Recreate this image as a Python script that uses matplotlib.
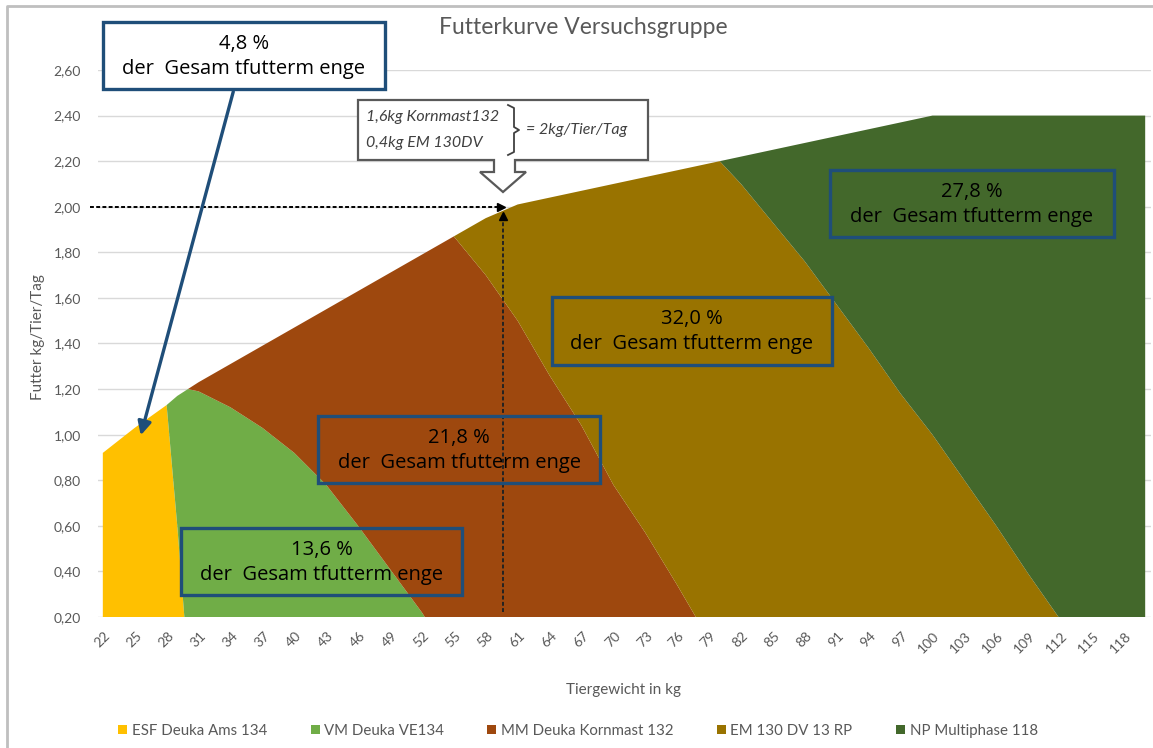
import matplotlib
matplotlib.use("Agg")
import matplotlib.pyplot as plt
import matplotlib.transforms as mtransforms
from matplotlib.patches import Rectangle, Polygon

# --- DATEN ---
gewicht = [22, 25, 28, 29, 30, 31, 34, 37, 40, 43, 46, 49, 52, 55, 58, 61, 64, 67, 70,
           73, 76, 79, 80, 82, 85, 88, 91, 94, 97, 100, 103, 106, 109, 112, 115, 118, 120]

esf = [0.92, 1.03, 1.13, 0.60, 0, 0, 0, 0, 0, 0, 0, 0, 0, 0, 0, 0, 0, 0, 0,
       0, 0, 0, 0, 0, 0, 0, 0, 0, 0, 0, 0, 0, 0, 0, 0, 0, 0]
vm = [0, 0, 0, 0.57, 1.20, 1.19, 1.12, 1.03, 0.92, 0.78, 0.60, 0.41, 0.22, 0, 0, 0, 0, 0, 0,
      0, 0, 0, 0, 0, 0, 0, 0, 0, 0, 0, 0, 0, 0, 0, 0, 0, 0]
mm = [0, 0, 0, 0, 0, 0.04, 0.19, 0.36, 0.55, 0.77, 1.03, 1.30, 1.57, 1.87, 1.70, 1.50, 1.26, 1.04, 0.78,
      0.57, 0.34, 0.10, 0.02, 0, 0, 0, 0, 0, 0, 0, 0, 0, 0, 0, 0, 0, 0]
em = [0, 0, 0, 0, 0, 0, 0, 0, 0, 0, 0, 0, 0, 0, 0.25, 0.51, 0.78, 1.03, 1.32,
      1.56, 1.82, 2.09, 2.18, 2.10, 1.93, 1.76, 1.57, 1.38, 1.18, 1.00, 0.80, 0.60, 0.39, 0.19, 0, 0, 0]
np_mp = [0, 0, 0, 0, 0, 0, 0, 0, 0, 0, 0, 0, 0, 0, 0, 0, 0, 0, 0,
         0, 0, 0, 0, 0.12, 0.32, 0.52, 0.74, 0.96, 1.19, 1.40, 1.60, 1.80, 2.01, 2.21, 2.40, 2.40, 2.40]

serien = ["ESF Deuka Ams 134", "VM Deuka VE134", "MM Deuka Kornmast 132",
          "EM 130 DV 13 RP", "NP Multiphase 118"]
farben = ["#FFC000", "#70AD47", "#9E480E", "#997300", "#43682B"]

x_ticks = [22, 25, 28, 31, 34, 37, 40, 43, 46, 49, 52, 55, 58, 61, 64, 67, 70,
           73, 76, 79, 82, 85, 88, 91, 94, 97, 100, 103, 106, 109, 112, 115, 118]
y_ticks = [0.2, 0.4, 0.6, 0.8, 1.0, 1.2, 1.4, 1.6, 1.8, 2.0, 2.2, 2.4, 2.6]
y_labels = ["0,20", "0,40", "0,60", "0,80", "1,00", "1,20", "1,40", "1,60",
            "1,80", "2,00", "2,20", "2,40", "2,60"]

# Anteile an der Gesamtfuttermenge
anteile = ["4,8 %", "13,6 %", "21,8 %", "32,0 %", "27,8 %"]

plt.rcParams["font.family"] = ["Lato", "DejaVu Sans"]
GRAU = "#595959"
BLAU = "#1F4E79"

W, H = 1153, 748
fig = plt.figure(figsize=(W / 100, H / 100), dpi=100)

# --- Diagramm ---
ax = fig.add_axes([97.5 / W, 1 - 617 / H, (1150.5 - 97.5) / W, (617 - 70) / H])
polys = ax.stackplot(gewicht, esf, vm, mm, em, np_mp, colors=farben, labels=serien, lw=0)
ax.set_xlim(21.5, 120.5)
ax.set_ylim(0.2, 2.6)
ax.set_yticks(y_ticks)
ax.set_yticklabels(y_labels)
ax.set_xticks(x_ticks)
ax.set_xticklabels([str(t) for t in x_ticks], rotation=45, ha="right", va="center",
                   rotation_mode="anchor")
ax.tick_params(axis="both", length=0, colors=GRAU, labelsize=10)
ax.tick_params(axis="y", pad=12)
ax.tick_params(axis="x", pad=12)
verschiebung = mtransforms.ScaledTranslation(5 / 100, 0, fig.dpi_scale_trans)
for lbl in ax.get_xticklabels():
    lbl.set_transform(lbl.get_transform() + verschiebung)
ax.yaxis.grid(True, color="#D9D9D9", lw=1)
ax.set_axisbelow(True)
for s in ax.spines.values():
    s.set_visible(False)

# gestrichelte Hilfslinien bei 2 kg/Tier/Tag
ax.plot([20.8, 59.2], [2.0, 2.0], color="black", lw=1.4, ls=(0, (2, 1.2)), clip_on=False, zorder=4)
ax.plot([59.4], [2.0], marker=">", ms=6, color="black", zorder=4)
ax.plot([59.6, 59.6], [0.22, 1.94], color="#222222", lw=1.4, ls=(0, (2, 1.2)), zorder=4)
ax.plot([59.6], [1.96], marker="^", ms=6, color="black", zorder=4)

# --- Texte / Achsentitel ---
fig.text(583 / W, 1 - 28 / H, "Futterkurve Versuchsgruppe", ha="center", va="center",
         fontsize=16.5, color=GRAU)
fig.text(38 / W, 1 - 337 / H, "Futter kg/Tier/Tag", ha="center", va="center",
         rotation=90, fontsize=11, color=GRAU)
fig.text(623 / W, 1 - 690 / H, "Tiergewicht in kg", ha="center", va="center",
         fontsize=11, color=GRAU)

fig.legend(polys, serien, loc="center", bbox_to_anchor=(578 / W, 1 - 731 / H), ncol=5,
           frameon=False, fontsize=10.8, handlelength=0.6, handleheight=0.6,
           handletextpad=0.3, columnspacing=2.9, labelcolor=GRAU)

# --- Overlay in Pixelkoordinaten ---
ov = fig.add_axes([0, 0, 1, 1], zorder=5)
ov.set_xlim(0, W)
ov.set_ylim(H, 0)
ov.axis("off")
ov.patch.set_alpha(0)

# Rahmen
ov.plot([7, 7, W], [H, 6, 6], color="#BFBFBF", lw=2)

boxen = [(103, 22, 385, 89, True), (181, 528, 462, 595, False), (318, 416, 600, 483, False),
         (552, 297, 832, 365, False), (830, 170, 1114, 237, False)]
for (x0, y0, x1, y1, weiss), anteil in zip(boxen, anteile):
    ov.add_patch(Rectangle((x0, y0), x1 - x0, y1 - y0, fill=weiss, facecolor="white",
                           edgecolor=BLAU, lw=2.4))
    xm = (x0 + x1) / 2
    ov.text(xm, y0 + 22, anteil, ha="center", va="center", fontsize=14.5,
            family=["Open Sans", "DejaVu Sans"], color="black")
    ov.text(xm, y0 + 47, "der  Gesam tfutterm enge", ha="center", va="center",
            fontsize=14.5, family=["Open Sans", "DejaVu Sans"], color="black")

# Pfeil vom 4,8 %-Kasten
ov.annotate("", xy=(140, 438), xytext=(234, 89),
            arrowprops=dict(arrowstyle="-|>", color=BLAU, lw=2.4, mutation_scale=20))

# Callout mit Pfeil nach unten
callout = [(358, 100), (648, 100), (648, 160), (515, 160), (515, 172), (526, 172),
           (503, 192), (480, 172), (494, 172), (494, 160), (358, 160)]
ov.add_patch(Polygon(callout, closed=True, facecolor="white", edgecolor="#595959", lw=1.6))
ov.text(366, 117, "1,6kg Kornmast132", ha="left", va="center", fontsize=11.5,
        style="italic", color="#404040")
ov.text(366, 143, "0,4kg EM 130DV", ha="left", va="center", fontsize=11.5,
        style="italic", color="#404040")
ov.plot([508, 514, 514, 519, 514, 514, 508], [105, 108, 127, 130, 133, 152, 155],
        color="#404040", lw=1.3)
ov.text(526, 130, "= 2kg/Tier/Tag", ha="left", va="center", fontsize=11.5,
        style="italic", color="#404040")

fig.savefig("out.png", dpi=100)
